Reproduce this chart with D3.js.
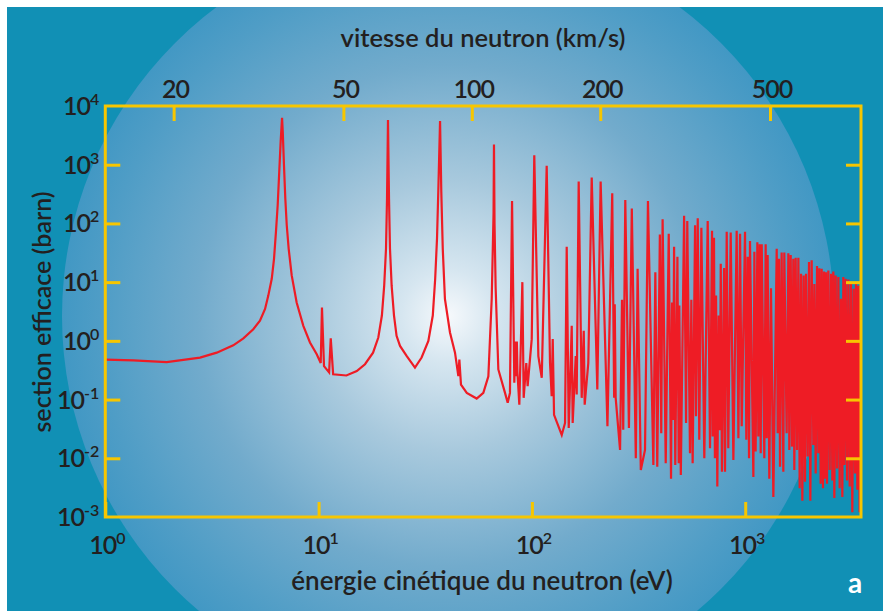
<!DOCTYPE html>
<html>
<head>
<meta charset="utf-8">
<script src="https://cdn.jsdelivr.net/npm/d3@7"></script>
<style>
  body { margin: 0; background: #fff; }
  svg { display: block; }
  text { font-family: Lato, "Open Sans", sans-serif; font-weight: 600; fill: #231f20; }
</style>
</head>
<body>
<svg id="chart"></svg>
<script>
// capture cross-section, point by point (eV, barn)
const energies = [
  1.0, 1.353, 1.94, 2.78, 3.33, 3.98, 4.44, 4.94, 5.31, 5.61, 5.81, 6.03, 6.18, 6.31, 6.43, 6.54, 6.64, 6.74, 6.79, 6.88,
  6.98, 7.09, 7.24, 7.48, 7.89, 8.48, 9.11, 9.8, 10.23, 10.37, 10.6, 11.2, 11.4, 11.7, 13.5, 15.1, 16.5, 18.0, 19.05, 19.8,
  20.3, 20.7, 20.93, 21.15, 21.38, 21.61, 22.0, 22.57, 23.2, 24.08, 25.9, 28.3, 30.4, 32.7, 34.3, 35.2, 35.9, 36.4, 37.1, 37.6,
  38.2, 39.1, 41.3, 43.6, 45.2, 45.7, 46.5, 49.5, 55.1, 59.2, 62.5, 64.8, 66.1, 66.4, 66.8, 67.6, 69.6, 74.8, 77, 78.9,
  80.7, 82.7, 83.6, 84.2, 85.0, 85.5, 87.3, 90.2, 91.5, 94.1, 95.5, 99.8, 102.6, 107.2, 111.2, 117.3, 121.6, 123.8, 125.2, 127,
  138, 143, 145.6, 148.8, 153.7, 155.3, 160.5, 162.2, 165.7, 171.2, 175, 176.8, 183.8, 190.7, 202.6, 210, 226, 238, 243, 244.5,
  247, 259, 264.5, 268, 274, 285, 294, 307, 313, 324, 339, 350, 371, 379, 387, 398, 404, 410, 424, 438,
  449, 454, 459, 464, 470, 481, 488, 491, 499, 517, 528, 535, 551, 559, 567, 582, 588, 599, 609, 623,
  643, 667, 684, 699, 704, 714, 721, 730, 740, 751, 760, 768, 778, 796, 804, 819, 833, 855, 880, 912,
  929, 946, 963, 998, 1012, 1027, 1042, 1053, 1092, 1104, 1119, 1140, 1152, 1169, 1182, 1195, 1229, 1247, 1261, 1274,
  1297, 1321, 1355, 1405, 1420, 1440, 1456, 1482, 1509, 1525, 1564, 1593, 1610, 1634, 1658, 1681, 1699, 1724, 1749, 1775,
  1800, 1827, 1853, 1879, 1907, 1928, 1963, 1991, 2020, 2049, 2086, 2109, 2140, 2171, 2203, 2226, 2258, 2283, 2316, 2341,
  2366, 2392, 2418, 2453, 2489, 2525, 2561, 2589, 2617, 2655, 2693, 2733, 2772, 2812, 2853, 2884, 2916, 2958, 3001, 3045,
  3089, 3133, 3178, 3224, 3271, 3307, 3355, 3391, 3440, 3480
];
const sections = [
  0.48, 0.465, 0.435, 0.518, 0.63, 0.84, 1.1, 1.58, 2.2, 3.5, 5.9, 11.4, 25, 72, 206, 770, 2500, 6300, 3700, 1000,
  268, 93, 37, 13, 4.5, 1.8, 0.94, 0.59, 0.42, 3.7, 0.37, 0.29, 1.1, 0.27, 0.257, 0.305, 0.4, 0.63, 1.14, 2.7,
  8.7, 37, 268, 5750, 268, 37, 8.7, 2.7, 1.22, 0.82, 0.55, 0.35, 0.52, 1.0, 2.7, 11.4, 55, 350, 5530, 350,
  37, 5.2, 1.39, 0.63, 0.25, 0.48, 0.18, 0.13, 0.104, 0.13, 0.25, 5.2, 150, 2200, 100, 8, 0.326, 0.13, 0.088, 0.13,
  241, 0.193, 0.97, 0.25, 0.97, 0.3, 0.082, 10, 0.107, 0.42, 0.169, 1.07, 1450, 0.55, 0.235, 960, 0.42, 0.114, 1.07, 0.055,
  0.025, 0.04, 40, 0.0327, 1.8, 0.04, 0.55, 0.122, 518, 0.107, 1.48, 0.082, 0.42, 607, 0.148, 518, 0.035, 326, 0.107, 4.2,
  0.107, 0.0139, 5.0, 0.0305, 250, 0.0327, 180, 0.01, 16.9, 0.0063, 0.0139, 241, 0.0077, 14.8, 0.0072, 65, 0.0268, 118, 0.0082, 67,
  0.0045, 4.5, 0.045, 40, 0.0077, 27, 0.0082, 4.0, 0.0052, 135, 0.04, 110, 0.0122, 5.0, 0.0082, 93, 0.052, 122, 0.0206, 84,
  0.01, 110, 0.0148, 75, 0.0234, 57, 0.01, 5.9, 0.0033, 2.7, 0.03, 20.6, 0.0059, 17.4, 0.0059, 72, 0.0148, 70, 0.0094, 75,
  0.022, 67, 0.035, 72, 0.0206, 27, 0.010, 50, 0.0048, 33, 0.013, 48, 0.0235, 44, 0.0122, 44, 0.010, 44, 0.022, 29,
  0.0045, 7.9, 0.0022, 37, 0.0268, 25, 0.0072, 32, 0.0059, 32, 0.0268, 31, 0.0139, 29, 0.0158, 25, 0.0063, 26, 0.0139, 26,
  0.0031, 13.9, 0.0019, 13, 0.004, 13.9, 0.0107, 22, 0.0019, 23.5, 0.0169, 9.3, 0.0055, 18.8, 0.0122, 17.3, 0.0037, 16.9, 0.0031, 15.2,
  0.0045, 14.8, 0.0037, 15.8, 0.0063, 13.9, 0.0042, 15.2, 0.0021, 13, 0.0067, 12.2, 0.0031, 5.2, 0.0022, 12.2, 0.0077, 11.4, 0.0042, 11.1,
  0.0033, 9.3, 0.0012, 7.7, 0.0055, 10, 0.0029, 8.7, 0.0012, 9
];

const energyTicks = [1, 10, 100, 1000];
const sectionTicks = [1e-3, 1e-2, 1e-1, 1, 10, 100, 1000, 1e4];
const speedTicks = [20, 50, 100, 200, 500];   // km/s
const energyRange = [1, 3490];
const sectionRange = [1e-3, 1e4];

const W = 891, H = 611;
const plot = { left: 105.3, right: 861, top: 106, bottom: 517 };
const gold = "#f7c600", red = "#ee1c25";

// neutron kinetic energy (eV) for a speed in km/s: E = m v^2 / 2
const speedToEnergy = v => 0.5 * 939.565e6 * Math.pow(v / 299792.458, 2);

const svg = d3.select("#chart").attr("width", W).attr("height", H);

const defs = svg.append("defs");
const grad = defs.append("radialGradient")
    .attr("id", "glow")
    .attr("gradientUnits", "userSpaceOnUse")
    .attr("cx", 448).attr("cy", 316).attr("r", 386);
[[0, "#f6f9fc"], [0.12, "#d6e6f0"], [0.35, "#a8c9dd"], [0.65, "#72abcc"], [0.9, "#4f9dc6"], [1, "#4298c4"]]
  .forEach(s => grad.append("stop").attr("offset", s[0]).attr("stop-color", s[1]));
defs.append("clipPath").attr("id", "panel")
  .append("rect").attr("x", 7).attr("y", 7).attr("width", 876).attr("height", 604);

svg.append("rect")
    .attr("x", 7).attr("y", 7).attr("width", 876).attr("height", 604)
    .attr("fill", "#1190b5");
svg.append("circle")
    .attr("clip-path", "url(#panel)")
    .attr("cx", 448).attr("cy", 316).attr("r", 386)
    .attr("fill", "url(#glow)");

const x = d3.scaleLog().domain(energyRange).range([plot.left, plot.right]);
const y = d3.scaleLog().domain(sectionRange).range([plot.bottom, plot.top]);

// curve
const pts = energies.map((e, i) => [e, sections[i]]);
svg.append("path")
    .datum(pts)
    .attr("fill", "none")
    .attr("stroke", red)
    .attr("stroke-width", 2.2)
    .attr("d", d3.line().x(d => x(d[0])).y(d => y(d[1])));

// frame + inward ticks
function goldAxis(g) {
  g.select(".domain").remove();
  g.selectAll(".tick line").attr("stroke", gold).attr("stroke-width", 3);
  g.selectAll(".tick text").remove();
}
svg.append("g")
    .attr("transform", `translate(0,${plot.bottom})`)
    .call(d3.axisBottom(x).tickValues(energyTicks).tickSizeInner(-15).tickSizeOuter(0))
    .call(goldAxis);
svg.append("g")
    .attr("transform", `translate(0,${plot.top})`)
    .call(d3.axisTop(x).tickValues(speedTicks.map(speedToEnergy)).tickSizeInner(-15).tickSizeOuter(0))
    .call(goldAxis);
svg.append("g")
    .attr("transform", `translate(${plot.left},0)`)
    .call(d3.axisLeft(y).tickValues(sectionTicks.slice(1, -1)).tickSizeInner(-15).tickSizeOuter(0))
    .call(goldAxis);
svg.append("g")
    .attr("transform", `translate(${plot.right},0)`)
    .call(d3.axisRight(y).tickValues(sectionTicks.slice(1, -1)).tickSizeInner(-15).tickSizeOuter(0))
    .call(goldAxis);

svg.append("rect")
    .attr("x", plot.left).attr("y", plot.top)
    .attr("width", plot.right - plot.left).attr("height", plot.bottom - plot.top)
    .attr("fill", "none").attr("stroke", gold).attr("stroke-width", 3);

// power-of-ten labels
function pow10(sel) {
  sel.append("tspan").attr("letter-spacing", -1).text("10");
  sel.append("tspan")
      .attr("dy", -10).attr("font-size", 16)
      .text(d => Math.round(Math.log10(d)));
}

svg.selectAll(".ylab")
  .data(sectionTicks)
  .enter().append("text")
    .attr("class", "ylab")
    .attr("x", plot.left - 6)
    .attr("y", d => y(d) + 9)
    .attr("text-anchor", "end")
    .style("font-size", "25px")
    .call(pow10);

svg.selectAll(".xlab")
  .data(energyTicks)
  .enter().append("text")
    .attr("class", "xlab")
    .attr("x", d => x(d) + 2)
    .attr("y", 554)
    .attr("text-anchor", "middle")
    .style("font-size", "25px")
    .call(pow10);

svg.selectAll(".vlab")
  .data(speedTicks)
  .enter().append("text")
    .attr("class", "vlab")
    .attr("x", d => x(speedToEnergy(d)) + 2)
    .attr("y", 98)
    .attr("text-anchor", "middle")
    .attr("letter-spacing", -1)
    .style("font-size", "25px")
    .text(d => d);

// titles
svg.append("text")
    .attr("x", 483).attr("y", 47)
    .attr("text-anchor", "middle")
    .style("font-size", "25.5px")
    .text("vitesse du neutron (km/s)");

svg.append("text")
    .attr("x", 482).attr("y", 590)
    .attr("text-anchor", "middle")
    .style("font-size", "26px")
    .text("énergie cinétique du neutron (eV)");

svg.append("text")
    .attr("transform", "translate(51,312) rotate(-90)")
    .attr("text-anchor", "middle")
    .style("font-size", "25px")
    .text("section efficace (barn)");

svg.append("text")
    .attr("x", 855).attr("y", 593)
    .attr("text-anchor", "middle")
    .style("font-size", "28px")
    .style("font-weight", "700")
    .style("fill", "#fff")
    .text("a");
</script>
</body>
</html>
